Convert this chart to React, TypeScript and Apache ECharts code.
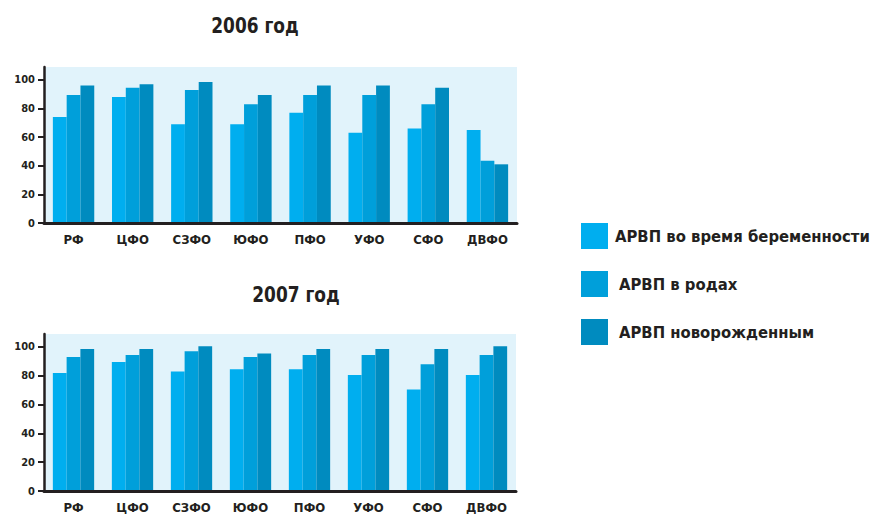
import React, { useEffect, useRef } from "react";
import * as echarts from "echarts";

const categories = ["РФ", "ЦФО", "СЗФО", "ЮФО", "ПФО", "УФО", "СФО", "ДВФО"];
const seriesNames = ["АРВП во время беременности", "АРВП в родах", "АРВП новорожденным"];
const years = ["2006 год", "2007 год"];

const pregnancy2006 = [74, 88, 69, 69, 77, 63, 66, 65];
const birth2006 = [89.5, 94.5, 93, 83, 89.5, 89.5, 83, 43.5];
const newborn2006 = [96, 97, 98.5, 89.5, 96, 96, 94.5, 41];

const pregnancy2007 = [82, 89.5, 83, 84.5, 84.5, 80.5, 70.5, 80.5];
const birth2007 = [93, 94.5, 97, 93, 94.5, 94.5, 88, 94.5];
const newborn2007 = [98.5, 98.5, 100.5, 95.5, 98.5, 98.5, 98.5, 100.5];

const yTicks = [0, 20, 40, 60, 80, 100];

const colors = ["#00AEEF", "#009FDA", "#008BBF"];
const FONT = "'DejaVu Sans Condensed', 'Liberation Sans Narrow', 'Arial Narrow', sans-serif";
const DARK = "#231F20";

export default function App() {
  const ref = useRef<HTMLDivElement>(null);
  useEffect(() => {
    if (!ref.current) return;
    const chart = echarts.init(ref.current, null, { renderer: "svg" });
    const grids = [
      { left: 44, right: 355, top: 67, bottom: 292 },
      { left: 44, right: 356, top: 334, bottom: 24 },
    ];
    const data2006 = [pregnancy2006, birth2006, newborn2006];
    const data2007 = [pregnancy2007, birth2007, newborn2007];
    const xAxis = [0, 1].map((i) => ({
      type: "category",
      gridIndex: i,
      data: categories,
      axisLine: { show: true, lineStyle: { color: DARK, width: 3 } },
      axisTick: { show: false },
      axisLabel: {
        color: DARK,
        fontFamily: FONT,
        fontWeight: "bold",
        fontSize: 13,
        margin: 10,
      },
      z: 5,
    }));
    const yAxis = [0, 1].map((i) => ({
      type: "value",
      gridIndex: i,
      min: 0,
      max: 109,
      interval: 20,
      splitLine: { show: false },
      axisLine: { show: true, lineStyle: { color: DARK, width: 2.5 } },
      axisTick: {
        show: true,
        length: 6,
        lineStyle: { color: DARK, width: 2 },
        customValues: yTicks,
      },
      axisLabel: {
        color: DARK,
        fontFamily: FONT,
        fontWeight: "bold",
        fontSize: 11,
        margin: 9,
        customValues: yTicks,
      },
      z: 5,
    }));
    const series: any[] = [];
    [data2006, data2007].forEach((set, gi) => {
      set.forEach((vals, si) => {
        series.push({
          type: "bar",
          name: seriesNames[si],
          xAxisIndex: gi,
          yAxisIndex: gi,
          data: vals,
          barGap: "0%",
          barCategoryGap: "30%",
          itemStyle: { color: colors[si] },
        });
      });
    });
    chart.setOption({
      animation: false,
      grid: grids.map((g) => ({
        ...g,
        show: true,
        backgroundColor: "#E1F3FB",
        borderWidth: 0,
      })),
      xAxis,
      yAxis,
      legend: {
        orient: "vertical",
        left: 576,
        top: 218,
        itemWidth: 27,
        itemHeight: 26,
        itemGap: 22,
        icon: "rect",
        selectedMode: false,
        textStyle: {
          color: DARK,
          fontFamily: FONT,
          fontWeight: "bold",
          fontSize: 16.5,
        },
        data: seriesNames.map((n, i) => ({
          name: n,
          textStyle: { padding: i === 0 ? [0, 0, 0, 2] : [0, 0, 0, 6] },
        })),
      },
      graphic: years.map((t, i) => ({
        type: "text",
        x: i === 0 ? 255 : 296,
        y: i === 0 ? 25 : 294,
        scaleX: 0.86,
        style: {
          text: t,
          fill: DARK,
          font: `bold 22px ${FONT}`,
          textAlign: "center",
          textVerticalAlign: "middle",
        },
      })),
      series,
    });
    return () => chart.dispose();
  }, []);
  return <div ref={ref} style={{ width: 872, height: 515, position: "absolute", left: 0, top: 0 }} />;
}
